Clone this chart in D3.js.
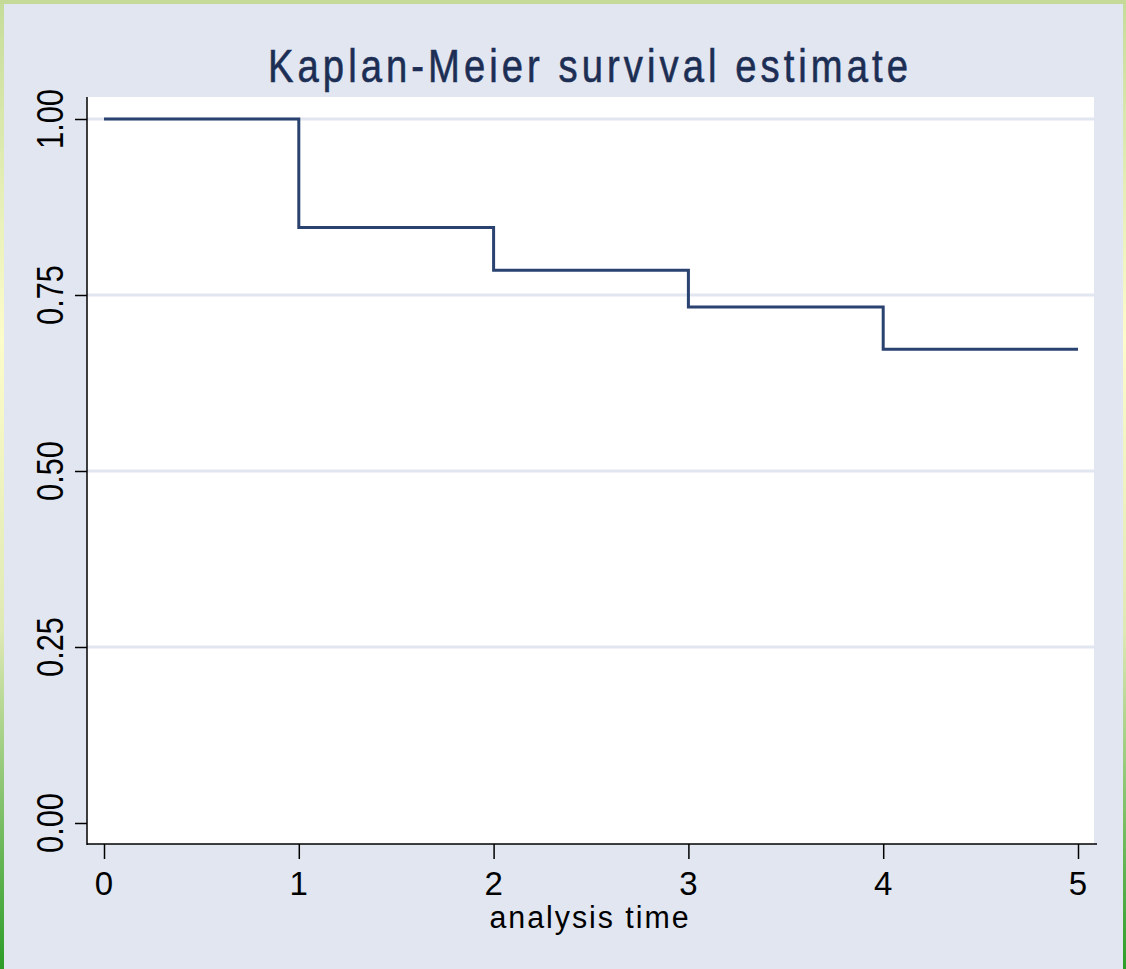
<!DOCTYPE html>
<meta charset="utf-8">
<style>
html, body { margin: 0; padding: 0; background: #e1e6f0; }
* { font-family: "Liberation Sans", Arial, sans-serif; }
</style>
<body>
<script src="https://d3js.org/d3.v7.min.js"></script>
<script>
// KM estimate
var times = [0, 1, 2, 3, 4, 5];
var survival = [1.0, 0.846, 0.785, 0.733, 0.673, 0.673];
var yTicks = [0, 0.25, 0.5, 0.75, 1];
var yTickLabels = ["0.00", "0.25", "0.50", "0.75", "1.00"];
var xTicks = [0, 1, 2, 3, 4, 5];

var data = times.map(function(t, i) { return {t: t, s: survival[i]}; });

var width = 1126, height = 969;
var plot = {left: 87, right: 1094, top: 97, bottom: 844};

var svg = d3.select("body").append("svg")
    .attr("width", width)
    .attr("height", height)
    .style("display", "block");

var defs = svg.append("defs");
var grad = defs.append("linearGradient")
    .attr("id", "edge")
    .attr("x1", 0).attr("y1", 0).attr("x2", 0).attr("y2", 1);
grad.append("stop").attr("offset", "0%").attr("stop-color", "#c5dc9a");
grad.append("stop").attr("offset", "35%").attr("stop-color", "#fdfccb");
grad.append("stop").attr("offset", "65%").attr("stop-color", "#dfe9b4");
grad.append("stop").attr("offset", "100%").attr("stop-color", "#2c9d28");

svg.append("rect").attr("width", width).attr("height", height).attr("fill", "#e1e6f0");
svg.append("rect").attr("x", 0).attr("y", 0).attr("width", 4).attr("height", height).attr("fill", "url(#edge)");
svg.append("rect").attr("x", width - 3).attr("y", 0).attr("width", 3).attr("height", height).attr("fill", "url(#edge)");
svg.append("rect").attr("x", 0).attr("y", 0).attr("width", width).attr("height", 4).attr("fill", "#c5da98");

var x = d3.scaleLinear().domain([0, 5]).range([104, 1078]);
var y = d3.scaleLinear().domain([0, 1]).range([823, 119]);

// plot region
svg.append("rect")
    .attr("x", plot.left).attr("y", plot.top)
    .attr("width", plot.right - plot.left)
    .attr("height", plot.bottom - plot.top)
    .attr("fill", "#fff");

// grid lines
svg.append("g").selectAll("line")
    .data(yTicks.filter(function(d) { return d > 0; }))
  .enter().append("line")
    .attr("x1", plot.left).attr("x2", plot.right)
    .attr("y1", function(d) { return y(d); })
    .attr("y2", function(d) { return y(d); })
    .attr("stroke", "#e1e6f0")
    .attr("stroke-width", 3);

// axes
var yAxis = svg.append("g")
    .attr("transform", "translate(" + plot.left + ",0)")
    .call(d3.axisLeft(y).tickValues(yTicks).tickSize(12).tickFormat(""));
yAxis.select(".domain").remove();
yAxis.selectAll("line").attr("stroke", "#000").attr("stroke-width", 1.5);

var xAxis = svg.append("g")
    .attr("transform", "translate(0," + plot.bottom + ")")
    .call(d3.axisBottom(x).tickValues(xTicks).tickSize(15).tickFormat(""));
xAxis.select(".domain").remove();
xAxis.selectAll("line").attr("stroke", "#000").attr("stroke-width", 1.5);

svg.append("line")
    .attr("x1", plot.left).attr("x2", plot.left)
    .attr("y1", plot.top).attr("y2", plot.bottom + 1)
    .attr("stroke", "#000").attr("stroke-width", 1.5);
svg.append("line")
    .attr("x1", plot.left).attr("x2", 1097)
    .attr("y1", plot.bottom).attr("y2", plot.bottom)
    .attr("stroke", "#000").attr("stroke-width", 1.5);

// tick labels
svg.append("g").selectAll("text")
    .data(yTicks)
  .enter().append("text")
    .attr("transform", function(d) { return "translate(63," + y(d) + ") rotate(-90)"; })
    .attr("text-anchor", "middle")
    .attr("textLength", 60)
    .attr("lengthAdjust", "spacingAndGlyphs")
    .style("font-size", "36px")
    .attr("fill", "#000")
    .text(function(d, i) { return yTickLabels[i]; });

svg.append("g").selectAll("text")
    .data(xTicks)
  .enter().append("text")
    .attr("x", function(d) { return x(d); })
    .attr("y", 895)
    .attr("text-anchor", "middle")
    .style("font-size", "33px")
    .attr("fill", "#000")
    .text(function(d) { return d; });

// step line
var line = d3.line()
    .x(function(d) { return x(d.t); })
    .y(function(d) { return y(d.s); })
    .curve(d3.curveStepAfter);

svg.append("path")
    .datum(data)
    .attr("d", line)
    .attr("fill", "none")
    .attr("stroke", "#2a4270")
    .attr("stroke-width", 3);

// titles
svg.append("text")
    .attr("x", 590)
    .attr("y", 82)
    .attr("text-anchor", "middle")
    .attr("textLength", 644)
    .attr("lengthAdjust", "spacingAndGlyphs")
    .style("font-size", "47px")
    .style("letter-spacing", "5px")
    .attr("fill", "#1d2e55")
    .attr("stroke", "#1d2e55")
    .attr("stroke-width", 0.6)
    .text("Kaplan-Meier survival estimate");

svg.append("text")
    .attr("x", 590)
    .attr("y", 928)
    .attr("text-anchor", "middle")
    .attr("textLength", 201)
    .attr("lengthAdjust", "spacingAndGlyphs")
    .style("font-size", "31px")
    .style("letter-spacing", "2px")
    .attr("fill", "#000")
    .text("analysis time");
</script>
